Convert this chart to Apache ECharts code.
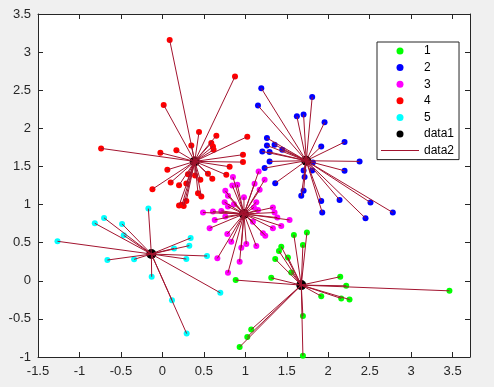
<!DOCTYPE html>
<html><head><meta charset="utf-8">
<script src="https://cdn.jsdelivr.net/npm/echarts@6/dist/echarts.min.js"></script>
<style>html,body{margin:0;padding:0;background:#f0f0f0}#c{width:494px;height:387px}</style>
</head><body><div id="c"></div><script>
// Cluster 1 (green)
const cluster1 = [[1.743,0.632],[1.586,0.601],[1.695,0.469],[1.434,0.447],[1.406,0.390],[1.514,0.307],[1.361,0.285],[1.554,0.110],[1.313,0.039],[2.145,0.053],[2.217,-0.066],[1.916,-0.202],[2.157,-0.232],[2.257,-0.246],[3.462,-0.132],[0.884,0.009],[1.695,-0.461],[1.072,-0.640],[1.024,-0.737],[0.932,-0.868],[1.695,-0.982]];
// Cluster 2 (blue)
const cluster2 = [[1.193,2.526],[1.153,2.298],[1.622,2.158],[1.703,2.180],[1.807,2.412],[1.956,2.079],[1.261,1.873],[1.353,1.785],[1.261,1.776],[1.446,1.719],[1.205,1.697],[1.293,1.689],[2.197,1.820],[1.916,1.763],[2.378,1.566],[1.293,1.566],[1.815,1.553],[1.233,1.478],[2.197,1.443],[1.703,1.447],[1.807,1.447],[1.715,1.360],[1.361,1.281],[1.703,1.180],[1.675,1.114],[1.916,1.048],[2.137,1.061],[1.928,0.895],[2.510,1.026],[2.450,0.820],[2.779,0.895]];
// Cluster 3 (magenta)
const cluster3 = [[1.161,1.434],[0.851,1.360],[1.233,1.325],[0.843,1.250],[0.904,1.259],[1.112,1.272],[1.173,1.193],[0.759,1.180],[0.791,1.114],[0.984,1.096],[0.751,1.031],[0.863,1.004],[0.791,0.974],[1.133,1.031],[1.104,0.961],[1.153,0.930],[1.333,0.961],[0.490,0.895],[0.610,0.908],[0.711,0.917],[1.353,0.895],[0.631,0.798],[0.759,0.842],[1.386,0.829],[1.534,0.798],[1.092,0.776],[1.333,0.689],[1.434,0.719],[0.570,0.689],[1.213,0.623],[0.783,0.614],[1.241,0.592],[0.831,0.513],[1.012,0.482],[0.952,0.434],[1.133,0.456],[0.663,0.294],[0.932,0.250],[0.791,0.105]];
// Cluster 4 (red)
const cluster4 = [[0.088,3.158],[0.876,2.680],[0.016,2.307],[0.442,1.952],[0.651,1.904],[1.024,1.890],[0.590,1.807],[0.610,1.763],[0.618,1.719],[0.349,1.776],[0.169,1.711],[-0.024,1.680],[-0.739,1.737],[0.972,1.654],[0.972,1.557],[0.811,1.496],[0.060,1.456],[0.550,1.404],[0.309,1.399],[0.771,1.390],[0.602,1.338],[0.458,1.325],[0.394,1.382],[0.100,1.289],[0.201,1.254],[0.289,1.276],[-0.120,1.202],[0.430,1.149],[0.470,1.105],[0.289,1.048],[0.237,0.996],[0.201,0.987],[0.257,0.982]];
// Cluster 5 (cyan)
const cluster5 = [[-1.265,0.518],[-0.815,0.754],[-0.703,0.825],[-0.486,0.746],[-0.466,0.596],[-0.169,0.947],[-0.663,0.272],[-0.341,0.281],[0.141,0.425],[0.341,0.561],[0.325,0.461],[0.289,0.285],[0.538,0.325],[-0.129,0.053],[0.699,-0.158],[0.116,-0.254],[0.293,-0.693]];
// Centroids (data1)
const centroids = [[1.675,-0.057],[1.735,1.575],[0.984,0.877],[0.390,1.566],[-0.133,0.351]];
const clusterNames = ['1','2','3','4','5'];
const clusterColors = ['#00ff00','#0000ff','#ff00ff','#ff0000','#00ffff'];
const xRange = [-1.5, 3.71];
const yRange = [-1, 3.5];
const tickStep = 0.5;

const clusters = [cluster1, cluster2, cluster3, cluster4, cluster5];
const segs = [];
clusters.forEach((pts, k) => {
  pts.forEach(p => { segs.push(p); segs.push(centroids[k]); segs.push([NaN, NaN]); });
});

const font = 'Arial, "Liberation Sans", sans-serif';
const axCol = '#262626';
function mkX(pos, labels) {
  return { type:'value', position:pos, min:xRange[0], max:xRange[1], interval:tickStep,
    splitLine:{show:false},
    axisLine:{show:true, onZero:false, lineStyle:{color:axCol, width:1}},
    axisTick:{show:true, inside:true, length:5, lineStyle:{color:axCol}},
    axisLabel:{show:labels, showMaxLabel:false, color:axCol, fontSize:13, fontFamily:font, margin:8} };
}
function mkY(pos, labels) {
  return { type:'value', position:pos, min:yRange[0], max:yRange[1], interval:tickStep,
    splitLine:{show:false},
    axisLine:{show:true, onZero:false, lineStyle:{color:axCol, width:1}},
    axisTick:{show:true, inside:true, length:5, lineStyle:{color:axCol}},
    axisLabel:{show:labels, color:axCol, fontSize:13, fontFamily:font, margin:7} };
}

const series = clusters.map((pts, k) => ({
  type:'scatter', name:clusterNames[k], data:pts, symbol:'circle', symbolSize:6,
  itemStyle:{color:clusterColors[k], opacity:1}, xAxisIndex:0, yAxisIndex:0
}));
series.push({ type:'scatter', name:'data1', data:centroids, symbol:'circle', symbolSize:10,
  itemStyle:{color:'#000000', opacity:1}, xAxisIndex:0, yAxisIndex:0 });
series.push({ type:'line', name:'data2', data:segs, symbol:'none', connectNulls:false,
  lineStyle:{color:'#A2142F', width:1}, itemStyle:{color:'#A2142F'}, xAxisIndex:0, yAxisIndex:0 });

const chart = echarts.init(document.getElementById('c'));
chart.setOption({
  animation:false,
  backgroundColor:'#f0f0f0',
  grid:{left:38, right:24, top:14, bottom:30, show:true, backgroundColor:'#ffffff', borderWidth:0},
  xAxis:[mkX('bottom', true), mkX('top', false)],
  yAxis:[mkY('left', true), mkY('right', false)],
  legend:{
    orient:'vertical', left:377, top:42, padding:[2,5,2,4], itemGap:2.6,
    itemWidth:38, itemHeight:7,
    backgroundColor:'#ffffff', borderColor:axCol, borderWidth:1, borderRadius:0,
    textStyle:{color:'#000', fontSize:12, fontFamily:font, lineHeight:14},
    data:[
      {name:'1', icon:'circle'},{name:'2', icon:'circle'},{name:'3', icon:'circle'},
      {name:'4', icon:'circle'},{name:'5', icon:'circle'},{name:'data1', icon:'circle'},
      {name:'data2', icon:'path://M0,0L38,0L38,1L0,1Z', itemStyle:{color:'#A2142F', borderWidth:0}}
    ]
  },
  series: series
});
</script></body></html>
